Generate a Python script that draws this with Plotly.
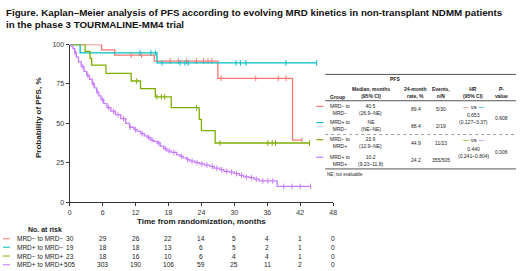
import plotly.graph_objects as go

W, H = 520, 271

# ---------------- data ----------------
groups = ["MRD− to MRD−", "MRD+ to MRD−", "MRD− to MRD+", "MRD+ to MRD+"]
group_colors = ["#F8766D", "#00BFC4", "#7CAE00", "#C77CFF"]

# Kaplan-Meier step curves: event times (months) and survival (%) after each event
red_t = [0, 5.8, 8.2, 15.4, 27.0, 40.6]
red_s = [100, 96.7, 93.3, 89.5, 78.6, 39.3]
red_end = 42.3
red_cens = [11.2, 13.1, 18.3, 19.8, 21.3, 23.1, 24.4, 25.2, 25.9, 27.6, 33.9, 38.0, 39.4, 42.3]

teal_t = [0, 1.9, 15.9]
teal_s = [100, 94.7, 88.4]
teal_end = 45.0
teal_cens = [12.8, 14.8, 15.6, 16.8, 20.1, 21.0, 21.6, 30.3, 31.1, 32.1, 39.4, 45.0]

green_t = [0, 2.8, 3.7, 4.0, 6.6, 11.2, 12.9, 15.6, 18.5, 23.6, 24.0, 26.5]
green_s = [100, 95.7, 91.3, 87.0, 81.7, 76.9, 72.0, 66.8, 60.0, 52.5, 45.4, 37.5]
green_end = 43.7
green_cens = [12.2, 15.9, 16.7, 17.3, 23.1, 27.4, 36.1, 36.9, 37.5, 43.7]

purple_t = [0, 0.3, 0.6, 0.9, 1.2, 1.6, 2.1, 2.6, 3.1, 3.6, 4.1, 4.5, 4.9, 5.3, 5.7,
            6.2, 6.8, 7.5, 8.3, 9.3, 10.2, 10.9, 11.7, 12.3, 12.9, 13.6, 14.1, 14.7,
            15.3, 15.9, 16.5, 17.1, 17.7, 18.5, 19.5, 20.1, 20.7, 21.3, 21.9, 22.8,
            23.7, 24.6, 25.5, 26.3, 27.3, 28.1, 29.1, 30.0, 30.9, 31.7, 32.7, 33.6,
            34.5, 37.8]
purple_s = [100, 99, 97.5, 95, 92, 89, 86, 83, 80.5, 78, 75, 72.5, 70, 67.5, 65,
            62.5, 60, 57.7, 55.5, 53, 50, 47.5, 46, 45, 43.5, 42, 41, 39.5,
            38.5, 37.5, 35.5, 34, 32.5, 31.5, 30, 29, 28, 27, 26, 25,
            24.2, 23.5, 22.6, 21.5, 20.6, 19.5, 19, 18, 17, 16, 15.5, 14.5,
            13.4, 9.9]
purple_end = 43.9
purple_cens = [1.0, 2.4, 3.3, 4.3, 5.0, 6.0, 7.1, 8.0, 8.8, 9.8, 11.0, 12.0, 13.2,
               14.4, 15.0, 16.2, 17.4, 18.1, 19.0, 20.4, 21.5, 22.3, 23.2, 24.1, 25.0,
               26.0, 26.8, 27.7, 28.6, 29.5, 30.4, 31.3, 32.2, 33.1, 34.0, 35.2, 36.1,
               37.0, 39.0, 40.5, 42.0, 43.9]

x_ticks = [0, 6, 12, 18, 24, 30, 36, 42, 48]
y_ticks = [0, 25, 50, 75, 100]

risk_red = [30, 29, 26, 22, 14, 5, 4, 1, 0]
risk_teal = [19, 18, 18, 13, 6, 5, 2, 1, 0]
risk_green = [23, 18, 16, 10, 6, 4, 4, 1, 0]
risk_purple = [505, 303, 190, 106, 59, 25, 11, 2, 0]

tbl_group = ["MRD− to<br>MRD−", "MRD+ to<br>MRD−", "MRD− to<br>MRD+", "MRD+ to<br>MRD+"]
tbl_median = ["40.5<br>(26.9–NE)", "NE<br>(NE–NE)", "23.9<br>(12.9–NE)", "10.2<br>(9.23–11.8)"]
tbl_rate24 = ["89.4", "88.4", "44.9", "24.2"]
tbl_events = ["5/30", "2/19", "11/23", "355/505"]
tbl_hr = ["0.653<br>(0.127–3.37)", "0.440<br>(0.241–0.804)"]
tbl_p = ["0.608", "0.006"]

curves = [(red_t, red_s, red_end, red_cens), (teal_t, teal_s, teal_end, teal_cens),
          (green_t, green_s, green_end, green_cens), (purple_t, purple_s, purple_end, purple_cens)]
risks = [risk_red, risk_teal, risk_green, risk_purple]

FONT = "Arial, Liberation Sans, sans-serif"
TXT = "#222222"


def px(x):
    return x / W


def py(y):
    return 1 - y / H


def surv_at(ts, ss, c):
    v = ss[0]
    for t, s in zip(ts, ss):
        if t <= c:
            v = s
    return v


fig = go.Figure()

for (ts, ss, end, cens), col, name in zip(curves, group_colors, groups):
    fig.add_trace(go.Scatter(
        x=ts + [end], y=ss + [ss[-1]], mode="lines", line=dict(color=col, width=1.3, shape="hv"),
        name=name, showlegend=False, cliponaxis=False, hoverinfo="skip"))
    fig.add_trace(go.Scatter(
        x=cens, y=[surv_at(ts, ss, c) for c in cens], mode="markers",
        marker=dict(symbol="line-ns", size=4, line=dict(color=col, width=1)),
        showlegend=False, cliponaxis=False, hoverinfo="skip"))

x0, x1 = 68.5, 335.0
yb, yt = 203.3, 41.7

fig.update_layout(
    width=W, height=H, margin=dict(l=0, r=0, t=0, b=0),
    paper_bgcolor="white", plot_bgcolor="white",
    font=dict(family=FONT, color=TXT, size=7),
    xaxis=dict(domain=[px(x0), px(x1)], range=[0, 48], tickvals=x_ticks,
               showgrid=False, zeroline=False, showline=True, linecolor="#333", linewidth=1.3,
               ticks="outside", ticklen=3, tickwidth=1, tickcolor="#333",
               tickfont=dict(size=7, color="#333")),
    yaxis=dict(domain=[py(yb), py(yt)], range=[0, 100], tickvals=y_ticks,
               showgrid=False, zeroline=False, showline=True, linecolor="#333", linewidth=1.3,
               ticks="outside", ticklen=3, tickwidth=1, tickcolor="#333",
               tickfont=dict(size=7, color="#333")),
)

ann = []
shapes = []

# title
ann.append(dict(text="<b>Figure. Kaplan–Meier analysis of PFS according to evolving MRD kinetics in non-transplant NDMM patients</b>",
                x=px(2.5), y=py(8.5), xref="paper", yref="paper", xanchor="left", yanchor="middle",
                showarrow=False, font=dict(size=9.75, color="#111")))
ann.append(dict(text="<b>in the phase 3 TOURMALINE-MM4 trial</b>",
                x=px(2.5), y=py(21.5), xref="paper", yref="paper", xanchor="left", yanchor="middle",
                showarrow=False, font=dict(size=9.75, color="#111")))

# axis titles
ann.append(dict(text="<b>Probability of PFS, %</b>", x=px(36.7), y=py(116.7), xref="paper", yref="paper",
                textangle=-90, showarrow=False, xanchor="center", yanchor="middle", font=dict(size=8)))
ann.append(dict(text="<b>Time from randomization, months</b>", x=(x0 + x1) / 2 / W, y=py(223.5), xref="paper",
                yref="paper", showarrow=False, xanchor="center", yanchor="middle", font=dict(size=8)))

# risk table
ann.append(dict(text="<b>No. at risk</b>", x=px(44), y=py(231), xref="paper", yref="paper",
                showarrow=False, xanchor="center", yanchor="middle", font=dict(size=7)))
row_y = [241, 249.7, 258.7, 267.6]
for g, col, r, yy in zip(groups, group_colors, risks, row_y):
    shapes.append(dict(type="line", xref="paper", yref="paper", x0=px(1), x1=px(8), y0=py(yy), y1=py(yy),
                       line=dict(color=col, width=1)))
    ann.append(dict(text=g, x=px(13), y=py(yy), xref="paper", yref="paper", showarrow=False,
                    xanchor="left", yanchor="middle", font=dict(size=6.5)))
    for t, v in zip(x_ticks, r):
        ann.append(dict(text=str(v), x=t, y=py(yy), xref="x", yref="paper", showarrow=False,
                        xanchor="center", yanchor="middle", font=dict(size=6.6)))

# summary table
TL, TR = 327, 520
for yy, dash in [(72.3, "solid"), (99.3, "solid"), (134, "dot"), (169.3, "solid")]:
    shapes.append(dict(type="line", xref="paper", yref="paper", x0=px(TL), x1=px(TR), y0=py(yy), y1=py(yy),
                       line=dict(color="#555" if dash == "solid" else "#888", width=1 if dash == "solid" else 0.8,
                                 dash=dash)))

TF = 5


def tann(text, x, y, anchor="center", size=TF):
    ann.append(dict(text=text, x=px(x), y=py(y), xref="paper", yref="paper", showarrow=False,
                    xanchor=anchor, yanchor="middle", font=dict(size=size, color=TXT)))


tann("<b>PFS</b>", 398, 77.3)
tann("<b>Group</b>", 329.5, 95, "left")
tann("<b>Median, months<br>(95% CI)</b>", 373.3, 91.3)
tann("<b>24-month<br>rate, %</b>", 418.7, 91.3)
tann("<b>Events,<br>n/N</b>", 444.3, 91.3)
tann("<b>HR<br>(95% CI)</b>", 476.7, 91.3)
tann("<b>P-<br>value</b>", 505, 91.3)

row_top = [105, 121.7, 139.3, 157.3]
for i, yy in enumerate(row_top):
    shapes.append(dict(type="line", xref="paper", yref="paper", x0=px(318), x1=px(325), y0=py(yy), y1=py(yy),
                       line=dict(color=group_colors[i], width=1.2)))
    tann(tbl_group[i], 329.5, yy + 3.1, "left")
    tann(tbl_median[i], 373.3, yy + 3.1)
    tann(tbl_rate24[i], 418.7, yy + 3.1)
    tann(tbl_events[i], 444.3, yy + 3.1)

vs_y = [105.7, 140]
hr_y = [117.6, 152.6]
p_y = [116.7, 151.7]
for k in range(2):
    ca, cb = group_colors[2 * k], group_colors[2 * k + 1]
    tann(f"<span style='color:{ca}'><b>—</b></span> vs <span style='color:{cb}'><b>—</b></span>", 476.7, vs_y[k],
         size=6)
    tann(tbl_hr[k], 476.7, hr_y[k])
    tann(tbl_p[k], 505, p_y[k])

tann("NE, not evaluable", 326.7, 175, "left", size=4.5)

fig.update_layout(annotations=ann, shapes=shapes)
fig.write_html("out.html", config={"displayModeBar": False},
               post_script="document.body.style.margin='0';document.body.style.overflow='hidden';")
